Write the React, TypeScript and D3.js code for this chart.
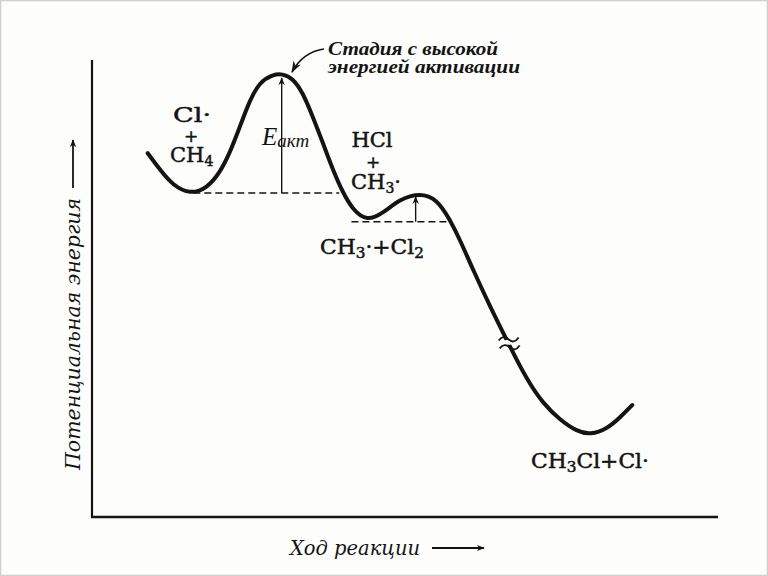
import React from "react";
import * as d3 from "d3";

// Reaction progress (0..100) and potential energy (0..100) along the profile
const progress = [8.9, 10.9, 12.9, 15.7, 18.4, 20.4, 22.0, 23.6, 25.2, 26.8, 28.9, 30.4, 32.1, 33.7, 35.3, 36.9, 38.5, 40.1, 41.7, 43.9, 46.5, 49.2, 52.4, 55.1, 57.2, 58.8, 60.9, 63.6, 66.8, 69.5, 72.0, 74.8, 77.5, 79.6, 82.3, 84.3, 86.3];
const energy = [79.6, 75.9, 72.6, 70.6, 72.0, 75.3, 79.6, 85.3, 91.2, 95.2, 96.8, 97.0, 96.0, 92.8, 87.5, 81.8, 75.9, 70.9, 67.2, 64.7, 66.5, 69.6, 70.9, 69.6, 65.0, 60.6, 54.0, 46.0, 37.2, 30.0, 24.9, 21.2, 18.7, 18.0, 19.3, 21.7, 24.5];

// levels: [reactants, first peak, intermediate, second peak]
const levelEnergy = [70.9, 96.5, 64.6, 70.5];
const levelStart = [16.5, 30.3, 41.6, 51.7];
const levelEnd = [39.5, 30.3, 57.0, 51.7];
const breakPoint = [66.4, 38.2];

const W = 768;
const H = 576;
const x = d3.scaleLinear().domain([0, 100]).range([92, 718]);
const y = d3.scaleLinear().domain([0, 100]).range([517, 60]);

const ink = "#141414";
const serif = "'DejaVu Serif', 'Liberation Serif', serif";
const lserif = "'Liberation Serif', 'DejaVu Serif', serif";

export default function App() {
  const pts: [number, number][] = progress.map((p, i) => [p, energy[i]]);
  const line = d3
    .line<[number, number]>()
    .x((d) => x(d[0]))
    .y((d) => y(d[1]))
    .curve(d3.curveBasis);
  const d = line(pts) || "";

  const bx = x(breakPoint[0]);
  const by = y(breakPoint[1]);
  const tilde = (cx: number, cy: number) =>
    `M${cx - 10},${cy + 2} q5,-6 10,-1 q5,5 10,-2`;

  const chemStyle: React.CSSProperties = {
    fontFamily: serif,
    fontWeight: 400,
    fill: ink,
    stroke: ink,
    strokeWidth: 0.5,
  };
  const italicStyle: React.CSSProperties = {
    fontFamily: lserif,
    fontStyle: "italic",
    fontWeight: 700,
    fill: ink,
  };
  const italicReg: React.CSSProperties = {
    fontFamily: serif,
    fontStyle: "italic",
    fontWeight: 400,
    fill: ink,
  };

  return (
    <svg
      width={W}
      height={H}
      viewBox={`0 0 ${W} ${H}`}
      style={{ position: "fixed", left: 0, top: 0, display: "block" }}
    >
      <defs>
        <marker id="ah" viewBox="0 0 10 10" refX="9" refY="5" markerWidth="8" markerHeight="8" orient="auto-start-reverse" markerUnits="userSpaceOnUse">
          <path d="M0,1 L10,5 L0,9 L3,5 Z" fill={ink} />
        </marker>
        <marker id="ah2" viewBox="0 0 10 10" refX="9" refY="5" markerWidth="12" markerHeight="12" orient="auto" markerUnits="userSpaceOnUse">
          <path d="M0,1.5 L10,5 L0,8.5 L3,5 Z" fill={ink} />
        </marker>
      </defs>
      <rect x={0.5} y={0.5} width={W - 1} height={H - 1} fill="#fdfdfb" stroke="#cfcfcf" strokeWidth={1.5} />

      {/* axes */}
      <line x1={x(0)} y1={y(0)} x2={x(0)} y2={y(100)} stroke={ink} strokeWidth={2.2} />
      <line x1={x(0) - 1} y1={y(0)} x2={x(100)} y2={y(0)} stroke={ink} strokeWidth={2.5} />

      {/* dashed levels */}
      <line x1={x(levelStart[0]) - 2} y1={y(levelEnergy[0])} x2={x(levelEnd[0])} y2={y(levelEnergy[0])} stroke={ink} strokeWidth={1.6} strokeDasharray="7,4" />
      <line x1={x(levelStart[2]) - 1} y1={y(levelEnergy[2])} x2={x(levelEnd[2])} y2={y(levelEnergy[2])} stroke={ink} strokeWidth={1.6} strokeDasharray="7,4" />

      {/* activation arrows */}
      <line x1={x(levelStart[1])} y1={y(levelEnergy[0])} x2={x(levelStart[1])} y2={y(levelEnergy[1]) + 2} stroke={ink} strokeWidth={1.4} markerEnd="url(#ah)" />
      <line x1={x(levelStart[3])} y1={y(levelEnergy[2])} x2={x(levelStart[3])} y2={y(levelEnergy[3]) + 2} stroke={ink} strokeWidth={1.4} markerEnd="url(#ah)" />

      {/* profile */}
      <path d={d} fill="none" stroke={ink} strokeWidth={4} strokeLinecap="round" strokeLinejoin="round" />

      {/* break mark */}
      <rect x={bx - 11} y={by - 2.5} width={22} height={5} fill="#fdfdfb" transform={`rotate(-8 ${bx} ${by})`} />
      <path d={tilde(bx + 1, by - 4)} fill="none" stroke={ink} strokeWidth={1.8} />
      <path d={tilde(bx + 2, by + 4)} fill="none" stroke={ink} strokeWidth={1.8} />

      {/* labels */}
      <text x={192} y={122} textAnchor="middle" fontSize={21} textLength={38} lengthAdjust="spacingAndGlyphs" style={chemStyle}>Cl·</text>
      <text x={191} y={142} textAnchor="middle" fontSize={17} style={chemStyle}>+</text>
      <text x={170} y={162} fontSize={21} style={chemStyle}>
        CH<tspan fontSize={14} dy={4}>4</tspan>
      </text>

      <text x={262} y={145} fontSize={25} style={{ ...italicReg, fontFamily: lserif }}>
        E<tspan fontSize={19} dy={2}>акт</tspan>
      </text>

      <text x={372} y={147} textAnchor="middle" fontSize={21} style={chemStyle}>HCl</text>
      <text x={373} y={168} textAnchor="middle" fontSize={17} style={chemStyle}>+</text>
      <text x={351} y={189} fontSize={21} style={chemStyle}>
        CH<tspan fontSize={14} dy={4}>3</tspan><tspan dy={-4}>·</tspan>
      </text>

      <text x={320} y={254} fontSize={20} textLength={104} lengthAdjust="spacingAndGlyphs" style={chemStyle}>
        CH<tspan fontSize={14} dy={4}>3</tspan><tspan dy={-4}>·+Cl</tspan><tspan fontSize={14} dy={4}>2</tspan>
      </text>

      <text x={531} y={468} fontSize={20} textLength={118} lengthAdjust="spacingAndGlyphs" style={chemStyle}>
        CH<tspan fontSize={14} dy={4}>3</tspan><tspan dy={-4}>Cl+Cl·</tspan>
      </text>

      {/* annotation */}
      <text x={328} y={55} fontSize={18} textLength={170} lengthAdjust="spacingAndGlyphs" style={italicStyle}>Стадия с высокой</text>
      <text x={328} y={73} fontSize={18} textLength={192} lengthAdjust="spacingAndGlyphs" style={italicStyle}>энергией активации</text>
      <path d="M324,49 Q303,52 292,72" fill="none" stroke={ink} strokeWidth={1.6} markerEnd="url(#ah2)" />

      {/* axis titles */}
      <text transform="translate(80,334) rotate(-90)" textAnchor="middle" fontSize={20} textLength={272} lengthAdjust="spacingAndGlyphs" style={italicReg}>Потенциальная энергия</text>
      <line x1={73} y1={188} x2={73} y2={140} stroke={ink} strokeWidth={1.8} markerEnd="url(#ah)" />

      <text x={290} y={555} fontSize={20} textLength={130} lengthAdjust="spacingAndGlyphs" style={italicReg}>Ход реакции</text>
      <line x1={432} y1={548} x2={484} y2={548} stroke={ink} strokeWidth={1.8} markerEnd="url(#ah)" />
    </svg>
  );
}
